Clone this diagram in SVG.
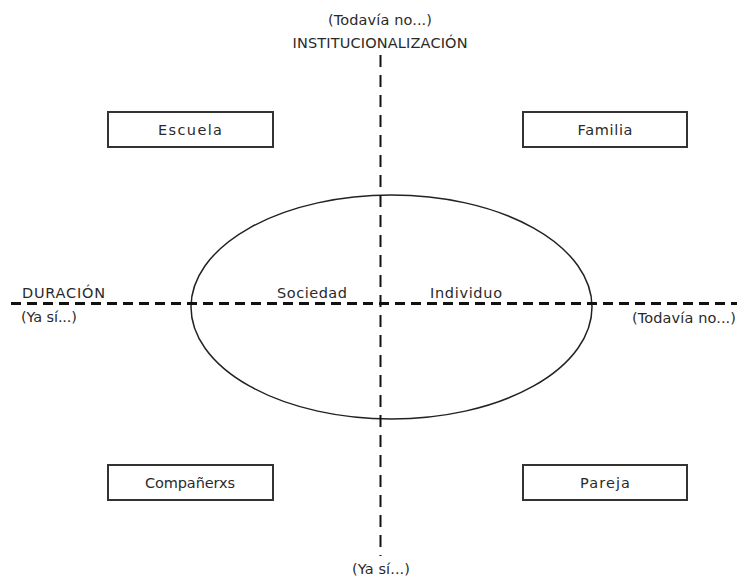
<svg xmlns="http://www.w3.org/2000/svg" width="737" height="579" viewBox="0 0 737 579">
<style>
  text { font-family: "DejaVu Sans", "Liberation Sans", sans-serif; font-size: 14.5px; fill: #2a2a2a; }
  .box { fill: #fff; stroke: #333; stroke-width: 2; }
  .axisH { stroke: #111; stroke-width: 3; stroke-dasharray: 10 6; fill: none; }
  .axisV { stroke: #111; stroke-width: 2; stroke-dasharray: 12 8; fill: none; }
  .ell { fill: none; stroke: #222; stroke-width: 1.5; }
</style>
<rect width="737" height="579" fill="#fff"/>
<g id="ellipse">
  <ellipse class="ell" cx="391.5" cy="307" rx="200.5" ry="112"/>
</g>
<g id="connectors">
  <line class="axisV" x1="380.5" y1="55" x2="380.5" y2="556"/>
  <line class="axisH" x1="11" y1="303.5" x2="737" y2="303.5"/>
</g>
<g id="axis-labels">
  <text x="380" y="25" text-anchor="middle" textLength="104" lengthAdjust="spacing">(Todavía no...)</text>
  <text x="380" y="48" text-anchor="middle" textLength="175" lengthAdjust="spacing">INSTITUCIONALIZACIÓN</text>
  <text x="22" y="298" textLength="83" lengthAdjust="spacing">DURACIÓN</text>
  <text x="21" y="322" textLength="56" lengthAdjust="spacing">(Ya sí...)</text>
  <text x="632" y="323" textLength="104" lengthAdjust="spacing">(Todavía no...)</text>
  <text x="381" y="574" text-anchor="middle" textLength="58" lengthAdjust="spacing">(Ya sí...)</text>
</g>
<g id="sociedad"><text x="312" y="298" text-anchor="middle" textLength="70" lengthAdjust="spacing">Sociedad</text></g>
<g id="individuo"><text x="466" y="298" text-anchor="middle" textLength="72" lengthAdjust="spacing">Individuo</text></g>
<g id="escuela">
  <rect class="box" x="108" y="112" width="165" height="35"/>
  <text x="190" y="135" text-anchor="middle" textLength="64" lengthAdjust="spacing">Escuela</text>
</g>
<g id="familia">
  <rect class="box" x="523" y="112" width="164" height="35"/>
  <text x="605" y="135" text-anchor="middle" textLength="55" lengthAdjust="spacing">Familia</text>
</g>
<g id="companerxs">
  <rect class="box" x="108" y="465" width="165" height="35"/>
  <text x="190" y="488" text-anchor="middle" textLength="90" lengthAdjust="spacing">Compañerxs</text>
</g>
<g id="pareja">
  <rect class="box" x="523" y="465" width="164" height="35"/>
  <text x="605" y="488" text-anchor="middle" textLength="50" lengthAdjust="spacing">Pareja</text>
</g>
</svg>
